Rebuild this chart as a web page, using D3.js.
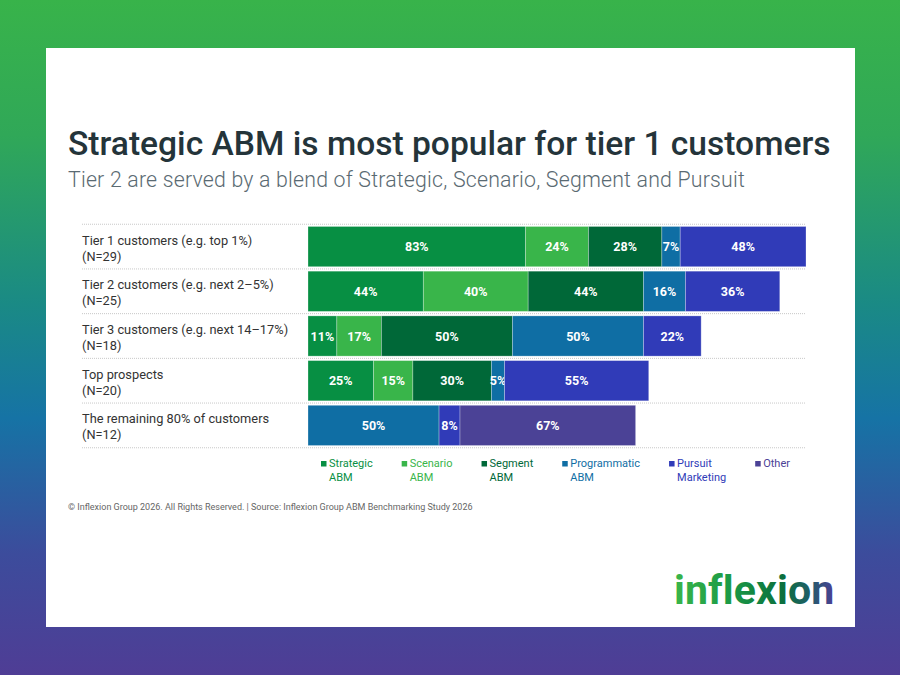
<!DOCTYPE html>
<html>
<head>
<meta charset="utf-8">
<script src="https://cdn.jsdelivr.net/npm/d3@7"></script>
<style>
  html, body { margin: 0; padding: 0; background: #fff; }
  svg { display: block; font-family: Roboto, "Liberation Sans", sans-serif; }
</style>
</head>
<body>
<svg width="900" height="675"></svg>
<script>
// ---- Data
const categories = [
    ['Tier 1 customers (e.g. top 1%)', '(N=29)'],
    ['Tier 2 customers (e.g. next 2\u20135%)', '(N=25)'],
    ['Tier 3 customers (e.g. next 14\u201317%)', '(N=18)'],
    ['Top prospects', '(N=20)'],
    ['The remaining 80% of customers', '(N=12)']
];
const seriesNames = [
    ['Strategic', 'ABM'],
    ['Scenario', 'ABM'],
    ['Segment', 'ABM'],
    ['Programmatic', 'ABM'],
    ['Pursuit', 'Marketing'],
    ['Other']
];
const strategic = [83, 44, 11, 25, 0];
const scenario = [24, 40, 17, 15, 0];
const segment = [28, 44, 50, 30, 0];
const programmatic = [7, 16, 50, 5, 50];
const pursuit = [48, 36, 22, 55, 8];
const other = [0, 0, 0, 0, 67];
const colors = ['#078f43', '#39b54a', '#006838', '#0f6ea4', '#303bb8', '#4b4296'];

const svg = d3.select('svg');
const W = 900, H = 675;

// ---- Background
const defs = svg.append('defs');
const bg = defs.append('linearGradient').attr('id', 'bg')
    .attr('x1', 0).attr('y1', 0).attr('x2', 0).attr('y2', 1);
[[0, '#38b34a'], [0.2, '#30a858'], [0.45, '#1a8a85'], [0.62, '#1673a5'], [0.82, '#3c4c9c'], [1, '#4f3d95']]
    .forEach(s => bg.append('stop').attr('offset', s[0]).attr('stop-color', s[1]));

svg.append('rect').attr('width', W).attr('height', H).attr('fill', 'url(#bg)');
svg.append('rect').attr('x', 46).attr('y', 48).attr('width', 809).attr('height', 579).attr('fill', '#fff');

// ---- Titles
svg.append('text').attr('x', 68).attr('y', 155)
    .attr('font-size', 33.6).attr('font-weight', 500).attr('fill', '#24343a')
    .text('Strategic ABM is most popular for tier 1 customers');
svg.append('text').attr('x', 68).attr('y', 187)
    .attr('font-size', 21.3).attr('font-weight', 300).attr('fill', '#5a6a72').attr('letter-spacing', 0.2)
    .text('Tier 2 are served by a blend of Strategic, Scenario, Segment and Pursuit');

// ---- Scales
const keys = d3.range(categories.length);
const rows = keys.map(i => ({
    i,
    values: [strategic[i], scenario[i], segment[i], programmatic[i], pursuit[i], other[i]]
}));
const stacked = d3.stack().keys(d3.range(6)).value((d, k) => d.values[k])(rows);

const x = d3.scaleLinear().domain([0, 190]).range([308, 806]);
const y = d3.scaleBand().domain(keys).range([222, 450]).paddingInner(0.1).paddingOuter(0.1);
const step = y.step();

// ---- Dotted separators
const seps = keys.map(i => y(i) - step * 0.05).concat([y(keys.length - 1) + y.bandwidth() + step * 0.05]);
svg.append('g').selectAll('line').data(seps).join('line')
    .attr('x1', 82).attr('x2', 806)
    .attr('y1', d => d).attr('y2', d => d)
    .attr('stroke', '#c8c8c8').attr('stroke-width', 1).attr('stroke-dasharray', '1,1');

// ---- Row labels
const labels = svg.append('g').attr('font-size', 12.8).attr('fill', '#333');
labels.selectAll('text.l1').data(keys).join('text')
    .attr('class', 'l1').attr('x', 82)
    .attr('y', i => y(i) + y.bandwidth() / 2 - 2)
    .text(i => categories[i][0]);
labels.selectAll('text.l2').data(keys).join('text')
    .attr('class', 'l2').attr('x', 82)
    .attr('y', i => y(i) + y.bandwidth() / 2 + 14)
    .text(i => categories[i][1]);

// ---- Bars
const layers = svg.append('g').selectAll('g').data(stacked).join('g')
    .attr('fill', d => colors[d.key]);
layers.selectAll('rect').data(d => d.filter(p => p[1] > p[0])).join('rect')
    .attr('x', d => x(d[0]))
    .attr('y', d => y(d.data.i))
    .attr('width', d => x(d[1]) - x(d[0]))
    .attr('height', y.bandwidth())
    .attr('stroke', 'rgba(255,255,255,0.35)').attr('stroke-width', 0.8);

layers.selectAll('text').data(d => d.filter(p => p[1] > p[0])).join('text')
    .attr('x', d => (x(d[0]) + x(d[1])) / 2)
    .attr('y', d => y(d.data.i) + y.bandwidth() / 2 + 4.5)
    .attr('text-anchor', 'middle')
    .attr('fill', '#fff').attr('font-size', 12.5).attr('font-weight', 700)
    .text(d => (d[1] - d[0]) + '%');

// ---- Legend
const legend = svg.append('g').attr('font-size', 11);
let lx = 321;
seriesNames.forEach((name, k) => {
    const g = legend.append('g').attr('transform', `translate(${lx},0)`);
    g.append('rect').attr('x', 0).attr('y', 461).attr('width', 5.5).attr('height', 5.5).attr('fill', colors[k]);
    const t = g.append('text').attr('fill', colors[k]);
    name.forEach((line, j) => {
        t.append('tspan').attr('x', 8).attr('y', 467 + j * 14).text(line);
    });
    const w = d3.max(t.selectAll('tspan').nodes(), n => n.getComputedTextLength());
    lx += 8 + w + 29;
});

// ---- Footer
svg.append('text').attr('x', 68).attr('y', 510)
    .attr('font-size', 9).attr('fill', '#666')
    .text('\u00a9 Inflexion Group 2026. All Rights Reserved. | Source: Inflexion Group ABM Benchmarking Study 2026');

// ---- Logo
const lg = defs.append('linearGradient').attr('id', 'logo')
    .attr('x1', 0).attr('y1', 0).attr('x2', 1).attr('y2', 0);
[[0, '#3ab54a'], [0.35, '#1b9a46'], [0.68, '#0c6f3e'], [0.84, '#1f5f66'], [1, '#4b3f96']]
    .forEach(s => lg.append('stop').attr('offset', s[0]).attr('stop-color', s[1]));
svg.append('text').attr('x', 674).attr('y', 604)
    .attr('font-size', 41).attr('font-weight', 700).attr('letter-spacing', 0.1)
    .attr('fill', 'url(#logo)')
    .text('inflexion');
</script>
</body>
</html>
